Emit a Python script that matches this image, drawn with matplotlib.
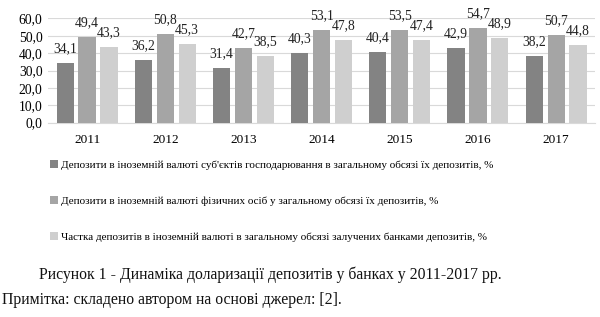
import matplotlib
matplotlib.use("Agg")
import matplotlib.pyplot as plt
import numpy as np

years = ["2011", "2012", "2013", "2014", "2015", "2016", "2017"]
business = [34.1, 36.2, 31.4, 40.3, 40.4, 42.9, 38.2]
individuals = [49.4, 50.8, 42.7, 53.1, 53.5, 54.7, 50.7]
total = [43.3, 45.3, 38.5, 47.8, 47.4, 48.9, 44.8]
series_names = [
    "Депозити в іноземній валюті суб'єктів господарювання в загальному обсязі їх депозитів, %",
    "Депозити в іноземній валюті фізичних осіб у загальному обсязі їх депозитів, %",
    "Частка депозитів в іноземній валюті в загальному обсязі залучених банками депозитів, %",
]
yticks = [0, 10, 20, 30, 40, 50, 60]

plt.rcParams['font.family'] = ['Liberation Serif', 'DejaVu Serif']

fig = plt.figure(figsize=(6, 3.17), dpi=100)
ax = fig.add_axes([0.08, 0.613, 0.912, 0.329])

colors = ["#838383", "#a5a5a5", "#cfcfcf"]
x = np.arange(len(years))
w = 0.22
step = 0.28
handles = []
for i, (vals, c) in enumerate(zip([business, individuals, total], colors)):
    bars = ax.bar(x + (i - 1) * step, vals, width=w, color=c, zorder=3)
    handles.append(bars)
    for xi, v in zip(x + (i - 1) * step, vals):
        ax.text(xi, v + 4.5, f"{v:.1f}".replace('.', ','), ha='center', va='bottom',
                fontsize=9.8, color='#222222')

ax.set_xlim(-0.5, len(years) - 0.5)
ax.set_ylim(0, 60)
ax.set_yticks(yticks)
ax.set_yticklabels([f"{t:.1f}".replace('.', ',') for t in yticks], fontsize=9.8)
ax.set_xticks(x)
ax.set_xticklabels(years, fontsize=9.5)
ax.tick_params(axis='y', length=0, pad=4)
ax.tick_params(axis='x', length=0, pad=8)
ax.grid(axis='y', color='#d9d9d9', linewidth=0.8, zorder=0)
for s in ['top', 'right', 'left']:
    ax.spines[s].set_visible(False)
ax.spines['bottom'].set_color('#d9d9d9')

fig.legend(handles, series_names, loc='upper left', bbox_to_anchor=(0.083, 0.495),
           frameon=False, fontsize=8, handlelength=0.7, handleheight=0.7,
           handletextpad=0.3, labelspacing=2.35, borderpad=0, borderaxespad=0)

fig.text(0.45, 0.133, "Рисунок 1 - Динаміка доларизації депозитів у банках у 2011-2017 рр.",
         ha='center', va='center', fontsize=11.3, color='#111111')
fig.text(0.003, 0.053, "Примітка: складено автором на основі джерел: [2].",
         ha='left', va='center', fontsize=11.3, color='#111111')

fig.savefig("out.png", dpi=100)
